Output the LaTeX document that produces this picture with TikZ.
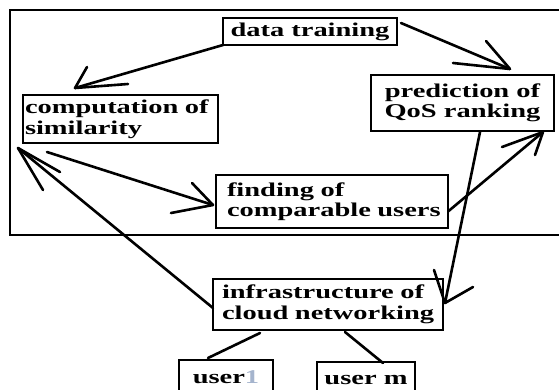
\documentclass[tikz,border=0pt]{standalone}
\usepackage{fontspec}
\setmainfont{Liberation Serif}[FakeStretch=1.46]
\begin{document}
\begin{tikzpicture}[x=1pt,y=-1pt,
  box/.style={draw, line width=2.6pt, outer sep=0pt, anchor=north west,
    font=\fontsize{19.5}{20.5}\selectfont\bfseries},
  link/.style={line width=2.6pt, line cap=round},
]
\clip (0,0) rectangle (559,389);
% frame around the training and ranking stages
\draw[line width=2.6pt] (10,10) rectangle (575,235);

% boxes
\node[box, minimum width=174pt, minimum height=27pt, inner sep=0pt] (dt) at (223,18) {data training};
\node[box, text width=191pt, inner xsep=2pt, inner ysep=0pt, minimum height=48pt, align=left] (cs) at (23,95)
  {\mbox{computation of}\\\mbox{similarity}};
\node[box, minimum width=183pt, minimum height=56pt, inner sep=0pt, align=center] (pr) at (371,75)
  {prediction of\\QoS ranking};
\node[box, text width=210pt, inner xsep=11pt, inner ysep=0pt, minimum height=53pt, align=left] (fi) at (216,175)
  {\mbox{finding of}\\\mbox{comparable users}};
\node[box, text width=212pt, inner xsep=9pt, inner ysep=0pt, minimum height=51pt, align=left] (inf) at (213,279)
  {\mbox{infrastructure of}\\\mbox{cloud networking}};
\node[box, minimum width=94pt, minimum height=35pt, inner sep=0pt] (u1) at (179,360)
  {user\textcolor[RGB]{165,180,205}{1}};
\node[box, minimum width=98pt, minimum height=35pt, inner sep=0pt] (um) at (317,362) {user m};

% arrow tips
\coordinate (t1) at (75,88);
\coordinate (t2) at (510,69);
\coordinate (t3) at (543,132);
\coordinate (t4) at (445,303);
\coordinate (t5) at (213,205);
\coordinate (t6) at (18,148);

% data training -> computation of similarity
\draw[link] (dt.south west) -- (t1);
\draw[link] (t1) -- ++(12,-21) (t1) -- ++(53,-4);
% data training -> prediction of QoS ranking
\draw[link] ([shift={(4,5)}]dt.north east) -- (t2);
\draw[link] (t2) -- ++(-24,-28) (t2) -- ++(-57,-6);
% finding of comparable users -> prediction
\draw[link] ([shift={(0,10)}]fi.east) -- (t3);
\draw[link] (t3) -- ++(-41,15) (t3) -- ++(-8,23);
% prediction -> infrastructure
\draw[link] ([shift={(17.5,1)}]pr.south) -- (t4);
\draw[link] (t4) -- ++(28,-16) (t4) -- ++(-11,-33);
% computation of similarity -> finding of comparable users
\draw[link] ([shift={(24,9)}]cs.south west) -- (t5);
\draw[link] (t5) -- ++(-21,-22) (t5) -- ++(-42,8);
% infrastructure -> computation of similarity
\draw[link] ([shift={(0,29)}]inf.north west) -- (t6);
\draw[link] (t6) -- ++(25,42) (t6) -- ++(42,24);
% infrastructure -- users
\draw[link] ([shift={(47,3)}]inf.south west) -- ([shift={(29,-2)}]u1.north west);
\draw[link] ([shift={(132,2)}]inf.south west) -- ([shift={(66,1)}]um.north west);
\end{tikzpicture}
\end{document}
